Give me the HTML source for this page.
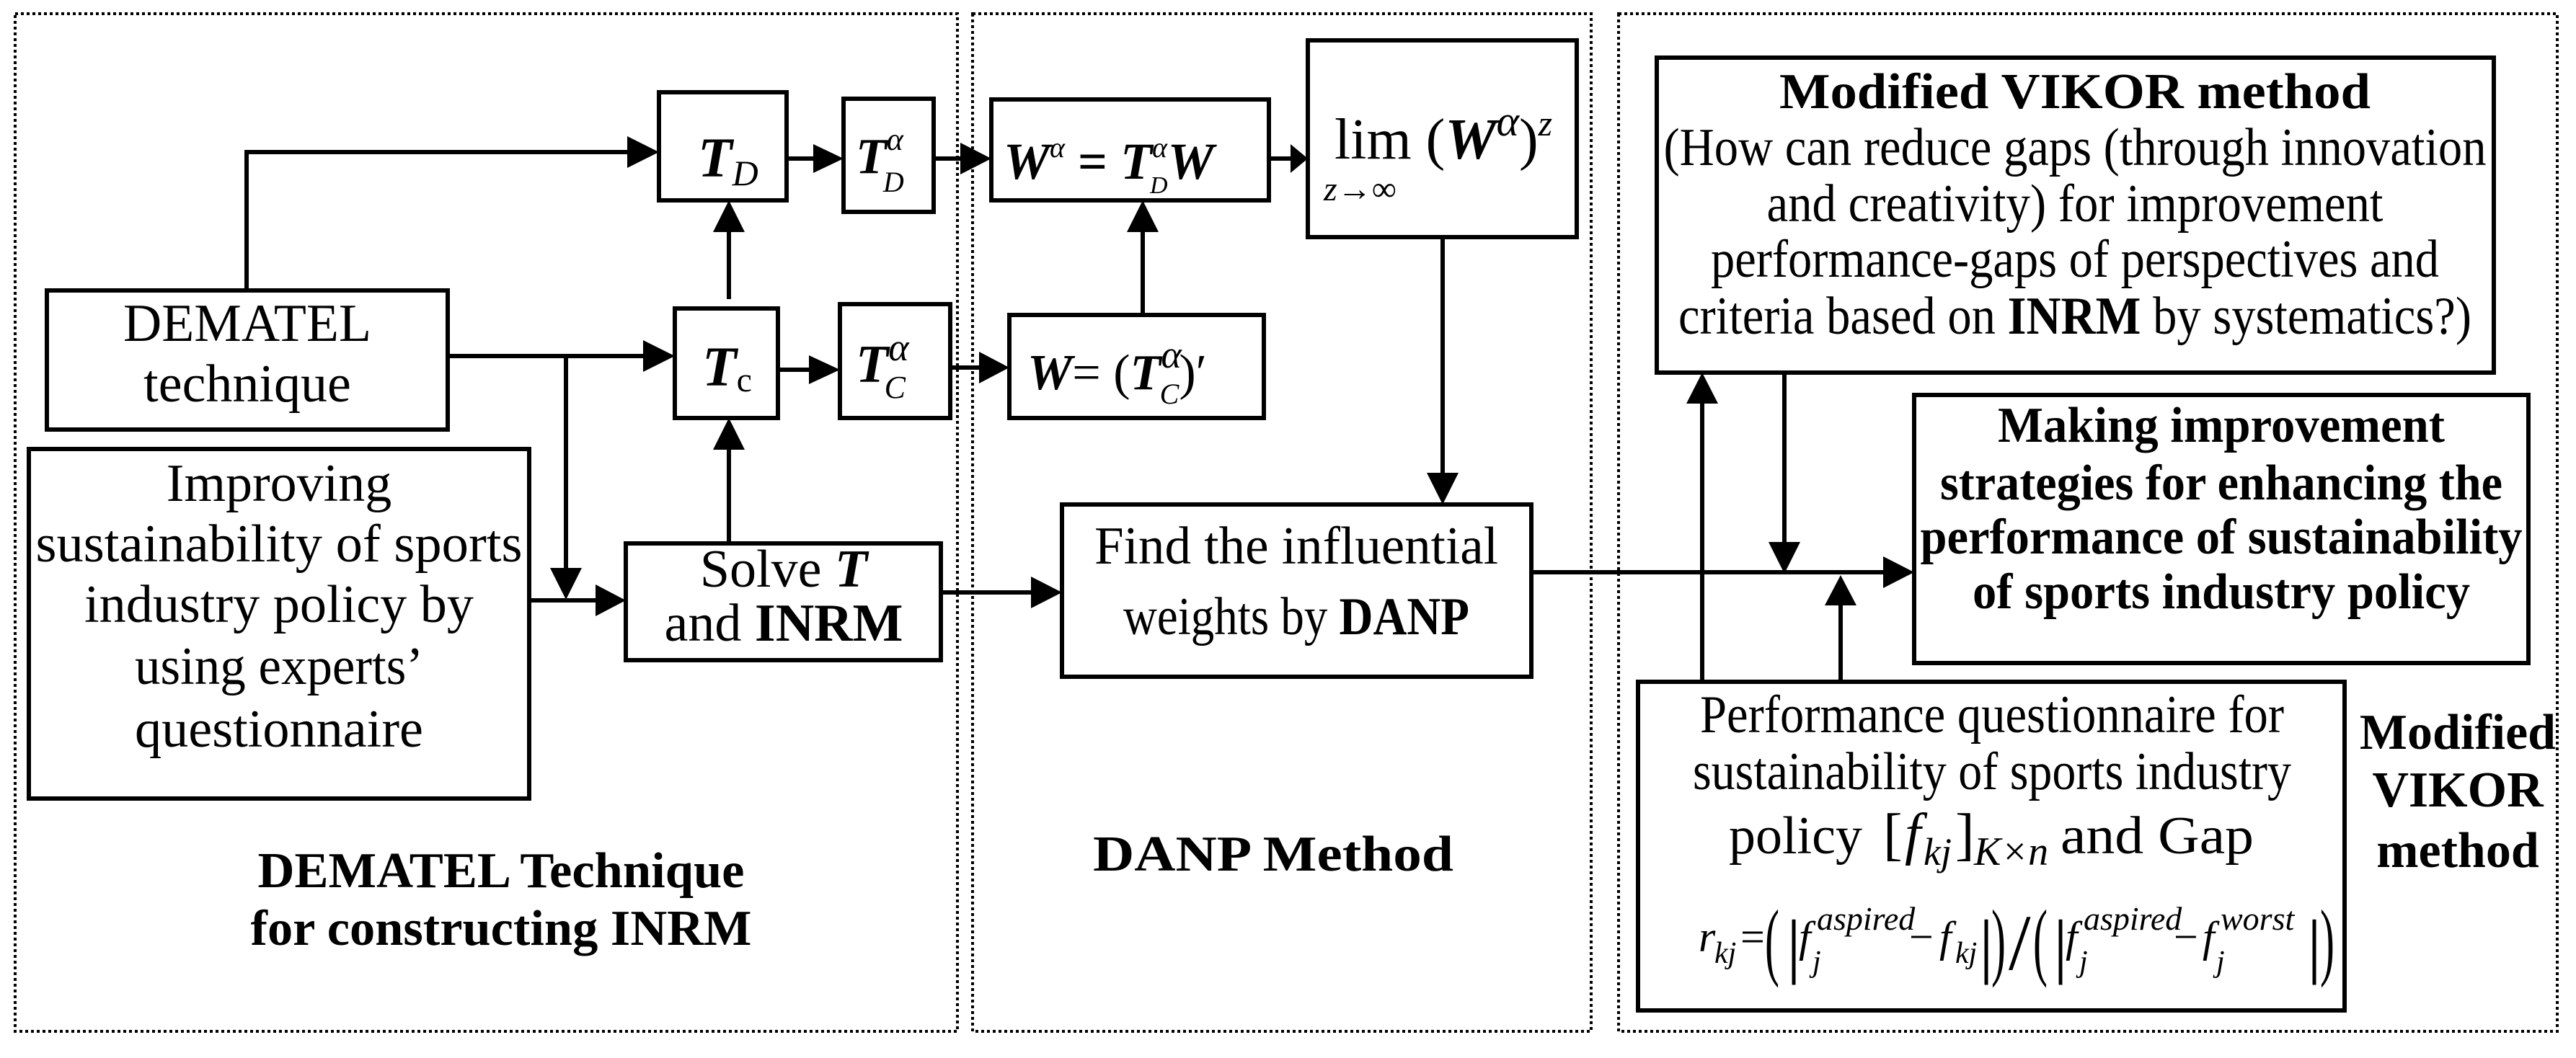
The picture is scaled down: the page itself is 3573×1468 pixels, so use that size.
<!DOCTYPE html>
<html><head><meta charset="utf-8"><style>
html,body{margin:0;padding:0;background:#fff;}
svg{display:block;}
text{font-family:"Liberation Serif",serif;fill:#000;}
.r{font-size:74px;}
.b{font-size:70px;font-weight:bold;}
.m{font-style:italic;font-weight:bold;}
.i{font-style:italic;}
</style></head><body>
<svg width="3573" height="1468" viewBox="0 0 3573 1468" xmlns="http://www.w3.org/2000/svg">
<g fill="none" stroke="#000" stroke-width="4" stroke-dasharray="4,4">
<rect x="21" y="19" width="1307" height="1412"/>
<rect x="1349" y="19" width="858" height="1412"/>
<rect x="2245" y="19" width="1302" height="1412"/>
</g>
<g fill="none" stroke="#000" stroke-width="6">
<rect x="65" y="403" width="556" height="193"/>
<rect x="40" y="623" width="694" height="485"/>
<rect x="914" y="128" width="177" height="150"/>
<rect x="1170" y="137" width="125" height="157"/>
<rect x="936" y="428" width="143" height="152"/>
<rect x="1165" y="422" width="153" height="158"/>
<rect x="868" y="754" width="437" height="162"/>
<rect x="1375" y="138" width="385" height="140"/>
<rect x="1400" y="437" width="353" height="143"/>
<rect x="1473" y="700" width="651" height="239"/>
<rect x="1814" y="56" width="373" height="273"/>
<rect x="2298" y="80" width="1161" height="437"/>
<rect x="2655" y="548" width="852" height="372"/>
<rect x="2272" y="946" width="980" height="456"/>
<polyline points="342,403 342,211 870,211"/>
<line x1="621" y1="494" x2="892" y2="494"/>
<line x1="785" y1="494" x2="785" y2="790"/>
<line x1="734" y1="833" x2="826" y2="833"/>
<line x1="1011" y1="415" x2="1011" y2="322"/>
<line x1="1011" y1="754" x2="1011" y2="624"/>
<line x1="1091" y1="220" x2="1128" y2="220"/>
<line x1="1295" y1="220" x2="1332" y2="220"/>
<line x1="1079" y1="513" x2="1122" y2="513"/>
<line x1="1318" y1="510" x2="1358" y2="510"/>
<line x1="1585" y1="437" x2="1585" y2="322"/>
<line x1="1760" y1="220" x2="1790" y2="220"/>
<line x1="1305" y1="822" x2="1430" y2="822"/>
<line x1="2001" y1="329" x2="2001" y2="656"/>
<line x1="2124" y1="794" x2="2612" y2="794"/>
<line x1="2475" y1="517" x2="2475" y2="752"/>
<line x1="2553" y1="946" x2="2553" y2="840"/>
<line x1="2361" y1="946" x2="2361" y2="560"/>
</g>
<g fill="#000">
<polygon points="870,189 914,211 870,233"/>
<polygon points="892,472 936,494 892,516"/>
<polygon points="763,788 785,832 807,788"/>
<polygon points="826,811 868,833 826,855"/>
<polygon points="989,322 1011,278 1033,322"/>
<polygon points="989,624 1011,580 1033,624"/>
<polygon points="1128,200 1170,220 1128,240"/>
<polygon points="1332,198 1375,220 1332,242"/>
<polygon points="1122,493 1165,513 1122,533"/>
<polygon points="1358,488 1400,510 1358,532"/>
<polygon points="1563,322 1585,278 1607,322"/>
<polygon points="1790,200 1814,220 1790,240"/>
<polygon points="1430,800 1473,822 1430,844"/>
<polygon points="1979,656 2001,700 2023,656"/>
<polygon points="2612,772 2655,794 2612,816"/>
<polygon points="2453,752 2475,796 2497,752"/>
<polygon points="2531,840 2553,798 2575,840"/>
<polygon points="2339,560 2361,517 2383,560"/>
</g>
<g class="r" text-anchor="middle">
<text x="343" y="473" textLength="344" lengthAdjust="spacingAndGlyphs">DEMATEL</text>
<text x="343" y="557">technique</text>
<text x="387" y="695">Improving</text>
<text x="387" y="779" textLength="675" lengthAdjust="spacingAndGlyphs">sustainability of sports</text>
<text x="387" y="863" textLength="540" lengthAdjust="spacingAndGlyphs">industry policy by</text>
<text x="387" y="949" textLength="400" lengthAdjust="spacingAndGlyphs">using experts’</text>
<text x="387" y="1036" textLength="400" lengthAdjust="spacingAndGlyphs">questionnaire</text>
<text x="1087" y="814">Solve <tspan class="m">T</tspan></text>
<text x="1087" y="889">and <tspan font-weight="bold">INRM</tspan></text>
<text x="1798" y="782" textLength="560" lengthAdjust="spacingAndGlyphs">Find the influential</text>
<text x="1798" y="880" textLength="480" lengthAdjust="spacingAndGlyphs">weights by <tspan font-weight="bold">DANP</tspan></text>
<text x="2878" y="229" textLength="1141" lengthAdjust="spacingAndGlyphs">(How can reduce gaps (through innovation</text>
<text x="2878" y="307" textLength="855" lengthAdjust="spacingAndGlyphs">and creativity) for improvement</text>
<text x="2878" y="384" textLength="1010" lengthAdjust="spacingAndGlyphs">performance-gaps of perspectives and</text>
<text x="2878" y="463" textLength="1100" lengthAdjust="spacingAndGlyphs">criteria based on <tspan font-weight="bold">INRM</tspan> by systematics?)</text>
<text x="2763" y="1016" textLength="810" lengthAdjust="spacingAndGlyphs">Performance questionnaire for</text>
<text x="2763" y="1095" textLength="830" lengthAdjust="spacingAndGlyphs">sustainability of sports industry</text>
</g>
<text class="r" x="2398" y="1184">policy</text>
<text x="2612" y="1184" font-size="80">[</text>
<text x="2642" y="1184" font-size="80" class="i">f</text>
<text x="2668" y="1200" font-size="54" class="i">kj</text>
<text x="2712" y="1184" font-size="80">]</text>
<text x="2738" y="1200" font-size="56" class="i">K×n</text>
<text class="r" x="2858" y="1184" textLength="268" lengthAdjust="spacingAndGlyphs">and Gap</text>
<!-- formula -->
<g font-size="60">
<text x="2356" y="1320" class="i">r</text>
<text x="2378" y="1336" font-size="42" class="i">kj</text>
<text x="2414" y="1320">=</text>
<text x="2448" y="1345" font-size="120" transform="translate(2448,0) scale(0.5,1) translate(-2448,0)">(</text>
<text x="2478" y="1345" font-size="100">|</text>
<text x="2495" y="1320" class="i">f</text>
<text x="2520" y="1290" font-size="46" class="i">aspired</text>
<text x="2514" y="1348" font-size="42" class="i">j</text>
<text x="2648" y="1320">−</text>
<text x="2690" y="1320" class="i">f</text>
<text x="2712" y="1336" font-size="42" class="i">kj</text>
<text x="2745" y="1345" font-size="100">|</text>
<text x="2762" y="1345" font-size="120" transform="translate(2762,0) scale(0.5,1) translate(-2762,0)">)</text>
<text x="2786" y="1345" font-size="110">/</text>
<text x="2820" y="1345" font-size="120" transform="translate(2820,0) scale(0.5,1) translate(-2820,0)">(</text>
<text x="2848" y="1345" font-size="100">|</text>
<text x="2865" y="1320" class="i">f</text>
<text x="2890" y="1290" font-size="46" class="i">aspired</text>
<text x="2884" y="1348" font-size="42" class="i">j</text>
<text x="3015" y="1320">−</text>
<text x="3055" y="1320" class="i">f</text>
<text x="3080" y="1290" font-size="46" class="i">worst</text>
<text x="3074" y="1348" font-size="42" class="i">j</text>
<text x="3200" y="1345" font-size="100">|</text>
<text x="3218" y="1345" font-size="120" transform="translate(3218,0) scale(0.5,1) translate(-3218,0)">)</text>
</g>
<g class="b" text-anchor="middle">
<text x="695" y="1231" textLength="675" lengthAdjust="spacingAndGlyphs">DEMATEL Technique</text>
<text x="695" y="1311" textLength="695" lengthAdjust="spacingAndGlyphs">for constructing INRM</text>
<text x="1766" y="1208" textLength="500" lengthAdjust="spacingAndGlyphs">DANP Method</text>
<text x="2878" y="150" textLength="820" lengthAdjust="spacingAndGlyphs">Modified VIKOR method</text>
<text x="3081" y="613" textLength="620" lengthAdjust="spacingAndGlyphs">Making improvement</text>
<text x="3081" y="693" textLength="780" lengthAdjust="spacingAndGlyphs">strategies for enhancing the</text>
<text x="3081" y="768" textLength="835" lengthAdjust="spacingAndGlyphs">performance of sustainability</text>
<text x="3081" y="844" textLength="690" lengthAdjust="spacingAndGlyphs">of sports industry policy</text>
<text x="3409" y="1039">Modified</text>
<text x="3409" y="1119">VIKOR</text>
<text x="3409" y="1203">method</text>
</g>
<text x="968" y="245" font-size="78" class="m">T<tspan font-size="50" font-weight="normal" dy="12">D</tspan></text>
<text x="1187" y="240" font-size="70" class="m">T<tspan font-size="44" font-weight="normal" dy="-32">α</tspan><tspan font-size="40" font-weight="normal" dx="-28" dy="58">D</tspan></text>
<text x="974" y="535" font-size="78" class="m">T<tspan font-size="48" font-weight="normal" font-style="normal" dy="8">c</tspan></text>
<text x="1187" y="530" font-size="74" class="m">T<tspan font-size="54" font-weight="normal" dy="-30">α</tspan><tspan font-size="44" font-weight="normal" dx="-34" dy="52">C</tspan></text>
<text x="1392" y="248" font-size="72" class="m">W<tspan font-size="40" font-weight="normal" dy="-30">α</tspan><tspan dy="30" font-style="normal"> = </tspan>T<tspan font-size="40" font-weight="normal" dy="-30">α</tspan><tspan font-size="34" font-weight="normal" dx="-24" dy="50">D</tspan><tspan dy="-20">W</tspan></text>
<text x="1425" y="540" font-size="70" class="m">W<tspan font-weight="normal" font-style="normal">= (</tspan>T<tspan font-size="54" font-weight="normal" dy="-30">α</tspan><tspan font-size="40" font-weight="normal" dx="-30" dy="50">C</tspan><tspan font-weight="normal" font-style="normal" dy="-20">)′</tspan></text>
<text x="1851" y="220" font-size="80">lim (<tspan class="m">W</tspan><tspan font-size="60" font-style="italic" dy="-32">α</tspan><tspan dy="32">)</tspan><tspan font-size="50" font-style="italic" dy="-32">z</tspan></text>
<text x="1836" y="278" font-size="48" class="i">z<tspan font-style="normal">→∞</tspan></text>
</svg>
</body></html>
